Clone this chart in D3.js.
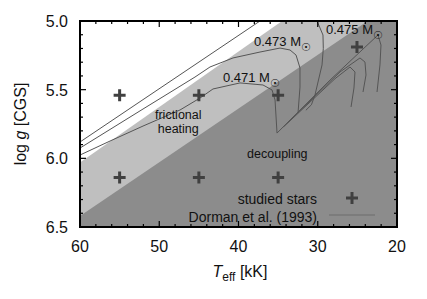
<!DOCTYPE html>
<html><head><meta charset="utf-8">
<script src="https://cdnjs.cloudflare.com/ajax/libs/d3/7.8.5/d3.min.js"></script>
<style>body{margin:0;background:#fff}svg{display:block}text{font-family:"Liberation Sans",Arial,sans-serif}</style>
</head><body><svg id="c" width="427" height="299"></svg>
<script>
// ---- data ----
const xTicks = [60, 50, 40, 30, 20];
const yTicks = [5.0, 5.5, 6.0, 6.5];
const lightBoundary = [[60, 6.03], [34.5, 5.0]];
const darkBoundary = [[60, 6.42], [23.7, 5.0]];
const stars = [[55, 5.54], [45, 5.54], [35, 5.54], [25.05, 5.19], [55, 6.14], [45, 6.14], [35, 6.14]];
const track475 = [[60, 5.881], [37.29, 5.0], [34.5, 4.86], [31.5, 4.88], [30.09, 5.0], [29.34, 5.102], [29.3, 5.2], [29.46, 5.32], [30.35, 5.539], [30.8, 5.61], [31.5, 5.65]];
const track473 = [[60, 5.925], [52.05, 5.641], [45.49, 5.408], [43.6, 5.335], [40.69, 5.269], [37.29, 5.226], [34.76, 5.197], [33.5, 5.211], [32.74, 5.248], [32.24, 5.342], [32.24, 5.481], [32.49, 5.67]];
const track471 = [[60, 5.976], [56.21, 5.874], [52.05, 5.765], [47.38, 5.648], [44.86, 5.561], [43.22, 5.495], [39.81, 5.451], [36.91, 5.466], [35.77, 5.502], [35.39, 5.575], [35.14, 5.816]];
const fanA = [[35.14, 5.816], [28.45, 5.43], [22.4, 5.102], [22.02, 5.175], [22.15, 5.32], [22.52, 5.517]];
const fanB = [[33.8, 5.74], [27.19, 5.371], [24.67, 5.269], [24.04, 5.299], [23.91, 5.393], [24.29, 5.517]];
const fanC = [[34.3, 5.77], [27.82, 5.42], [25.93, 5.335], [25.3, 5.371], [25.43, 5.488], [25.8, 5.626]];
const massLabels = [["0.471 M", 41.96, 5.445], ["0.473 M", 38.04, 5.182], ["0.475 M", 28.96, 5.092]];
const regionLabels = [["frictional", 47.6, 5.715], ["heating", 47.6, 5.815], ["decoupling", 35.1, 6.0]];

// ---- chart ----
const svg = d3.select("#c");
const L = 80, R = 397, T = 21, B = 227;
const x = d3.scaleLinear().domain([60, 20]).range([L, R]);
const y = d3.scaleLinear().domain([5.0, 6.5]).range([T, B]);
const line = d3.line().x(d => x(d[0])).y(d => y(d[1]));

svg.append("clipPath").attr("id", "clip").append("rect")
  .attr("x", L).attr("y", T).attr("width", R - L).attr("height", B - T);
const g = svg.append("g").attr("clip-path", "url(#clip)");

function region(b, color) {
  const pts = [b[0], b[1], [20, 5.0], [20, 6.5], [60, 6.5]];
  g.append("path").attr("d", line(pts) + "Z").attr("fill", color);
}
region(lightBoundary, "#bfbfbf");
region(darkBoundary, "#8c8c8c");

[track475, track473, track471, fanA, fanB, fanC].forEach(t => {
  g.append("path").attr("d", line(t)).attr("fill", "none")
    .attr("stroke", "#555").attr("stroke-width", 1);
});

function plus(px, py) {
  svg.append("path").attr("d", `M${px - 6},${py}H${px + 6}M${px},${py - 6}V${py + 6}`)
    .attr("stroke", "#404040").attr("stroke-width", 3);
}
stars.forEach(s => plus(x(s[0]), y(s[1])));

massLabels.forEach(m => {
  const t = svg.append("text").attr("x", x(m[1])).attr("y", y(m[2]))
    .attr("font-size", 13).attr("fill", "#111").text(m[0]);
  t.append("tspan").attr("dy", 5).attr("font-size", 11)
    .attr("font-family", "DejaVu Sans").text("\u2609");
});
regionLabels.forEach(r => {
  svg.append("text").attr("x", x(r[1])).attr("y", y(r[2])).attr("text-anchor", "middle")
    .attr("font-size", 12.5).attr("fill", "#111").text(r[0]);
});

// legend
svg.append("text").attr("x", 317).attr("y", 204).attr("text-anchor", "end")
  .attr("font-size", 14).attr("fill", "#111").text("studied stars");
plus(352, 198);
svg.append("text").attr("x", 317).attr("y", 222).attr("text-anchor", "end")
  .attr("font-size", 14).attr("fill", "#111").text("Dorman et al. (1993)");
svg.append("line").attr("x1", 329).attr("x2", 375).attr("y1", 215).attr("y2", 215)
  .attr("stroke", "#777").attr("stroke-width", 1.5);

// axes ticks (inward, mirrored)
const ax = svg.append("g").attr("stroke", "#000").attr("stroke-width", 1.2);
d3.range(20, 60.01, 2).forEach(v => {
  const major = v % 10 === 0, len = major ? 6 : 3;
  ax.append("line").attr("x1", x(v)).attr("x2", x(v)).attr("y1", B).attr("y2", B - len);
  ax.append("line").attr("x1", x(v)).attr("x2", x(v)).attr("y1", T).attr("y2", T + len);
});
d3.range(5.0, 6.501, 0.1).forEach(v => {
  const major = Math.abs(v * 2 - Math.round(v * 2)) < 1e-6, len = major ? 6 : 3;
  ax.append("line").attr("x1", L).attr("x2", L + len).attr("y1", y(v)).attr("y2", y(v));
  ax.append("line").attr("x1", R).attr("x2", R - len).attr("y1", y(v)).attr("y2", y(v));
});
svg.append("rect").attr("x", L).attr("y", T).attr("width", R - L).attr("height", B - T)
  .attr("fill", "none").attr("stroke", "#000").attr("stroke-width", 2);

xTicks.forEach(v => svg.append("text").attr("x", x(v)).attr("y", 252)
  .attr("text-anchor", "middle").attr("font-size", 16).attr("fill", "#111").text(v));
yTicks.forEach(v => svg.append("text").attr("x", 68).attr("y", y(v) + 6)
  .attr("text-anchor", "end").attr("font-size", 16).attr("fill", "#111").text(v.toFixed(1)));

// axis titles
const xt = svg.append("text").attr("x", 240).attr("y", 277).attr("text-anchor", "middle")
  .attr("font-size", 16).attr("fill", "#111");
xt.append("tspan").attr("font-style", "italic").text("T");
xt.append("tspan").attr("font-size", 12).attr("dy", 4).text("eff");
xt.append("tspan").attr("dy", -4).text(" [kK]");
const yt = svg.append("text").attr("transform", "translate(26,124) rotate(-90)")
  .attr("text-anchor", "middle").attr("font-size", 16).attr("fill", "#111");
yt.append("tspan").text("log ");
yt.append("tspan").attr("font-style", "italic").text("g");
yt.append("tspan").text(" [CGS]");
</script></body></html>
